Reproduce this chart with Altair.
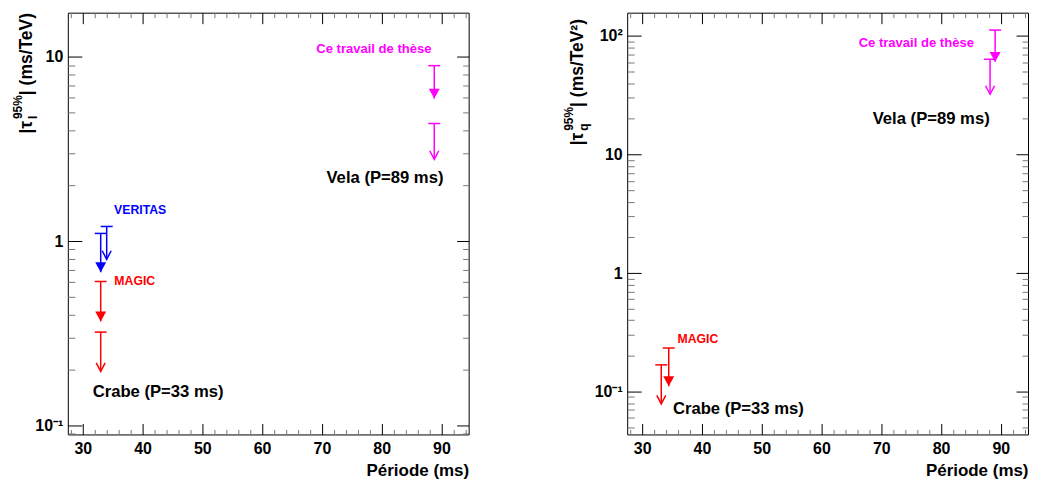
import altair as alt
import pandas as pd

FONT = "Liberation Sans"

# ---------------- data ----------------
experiments = ["VERITAS", "MAGIC", "Ce travail de thèse"]
exp_colors = ["#0000ff", "#ff0000", "#ff00ff"]

# Left panel: |tau_l| 95% upper limits (ms/TeV)
lin_exp = ["VERITAS", "VERITAS", "MAGIC", "MAGIC", "Ce travail de thèse", "Ce travail de thèse"]
lin_period = [33.0, 34.0, 33.0, 33.0, 88.8, 88.8]
lin_limit = [1.10, 1.20, 0.603, 0.320, 8.97, 4.35]
lin_arrow_end = [0.677, 0.796, 0.366, 0.196, 5.94, 2.78]
lin_head = ["plein", "vide", "plein", "vide", "plein", "vide"]

# Right panel: |tau_q| 95% upper limits (ms/TeV^2)
quad_exp = ["MAGIC", "MAGIC", "Ce travail de thèse", "Ce travail de thèse"]
quad_period = [34.45, 33.2, 89.05, 88.2]
quad_limit = [0.233, 0.168, 112.0, 63.5]
quad_arrow_end = [0.111, 0.0788, 60.4, 32.2]
quad_head = ["plein", "vide", "plein", "vide"]

# annotations (data coordinates)
lin_tag_text = ["Ce travail de thèse", "VERITAS", "MAGIC"]
lin_tag_x = [78.7, 39.6, 38.7]
lin_tag_y = [11.1, 1.48, 0.603]
lin_src_text = ["Vela (P=89 ms)", "Crabe (P=33 ms)"]
lin_src_x = [80.55, 42.6]
lin_src_y = [2.21, 0.152]

quad_tag_text = ["Ce travail de thèse", "MAGIC"]
quad_tag_x = [75.86, 39.33]
quad_tag_y = [86.6, 0.275]
quad_src_text = ["Vela (P=89 ms)", "Crabe (P=33 ms)"]
quad_src_x = [78.35, 46.1]
quad_src_y = [20.1, 0.0707]

# axes
x_domain = [27.5, 94.55]
x_major = [30, 40, 50, 60, 70, 80, 90]
x_minor = [28, 32, 34, 36, 38, 42, 44, 46, 48, 52, 54, 56, 58, 62, 64, 66, 68,
           72, 74, 76, 78, 82, 84, 86, 88, 92, 94]
x_title = "Période (ms)"

lin_y_domain = [0.089, 17.4]
lin_y_major = [0.1, 1, 10]
lin_y_minor = [0.09, 0.2, 0.3, 0.4, 0.5, 0.6, 0.7, 0.8, 0.9, 2, 3, 4, 5, 6, 7, 8, 9]
lin_y_labels = "datum.value < 0.5 ? '10⁻¹' : datum.value < 5 ? '1' : '10'"
lin_title = ["|τ", "l", "95%", "| (ms/TeV)"]

quad_y_domain = [0.0435, 157]
quad_y_major = [0.1, 1, 10, 100]
quad_y_minor = [0.05, 0.06, 0.07, 0.08, 0.09, 0.2, 0.3, 0.4, 0.5, 0.6, 0.7, 0.8, 0.9,
                2, 3, 4, 5, 6, 7, 8, 9, 20, 30, 40, 50, 60, 70, 80, 90]
quad_y_labels = "datum.value < 0.5 ? '10⁻¹' : datum.value < 5 ? '1' : datum.value < 50 ? '10' : '10²'"
quad_title = ["|τ", "q", "95%", "| (ms/TeV²)"]

W, H = 402, 423
FILLED_HEAD = "M-1,-1.8L0,0L1,-1.8Z"
OPEN_HEAD = "M-1,-1.9L0,0L1,-1.9"
LABEL_STYLE = dict(labelFont=FONT, labelFontSize=16, labelFontWeight="bold", labelColor="black")


def panel(lim_df, tag_df, src_df, y_domain, y_major, y_minor, y_label_expr,
          title, title_x, title_starts, anchor=False):
    xs = alt.Scale(domain=x_domain, nice=False, zero=False)
    ys = alt.Scale(type="log", domain=y_domain, nice=False)
    color = alt.Color("exp:N", scale=alt.Scale(domain=experiments, range=exp_colors), legend=None)

    frame = pd.DataFrame({"x": x_domain, "y": y_domain})
    base = alt.Chart(frame).mark_point(opacity=0)
    common = dict(domain=False, grid=False, labelFlush=False, labelOverlap=False, tickWidth=1)

    ax_main = base.encode(
        x=alt.X("x:Q", scale=xs, axis=alt.Axis(
            orient="bottom", values=x_major, tickSize=11, offset=-11, tickColor="black",
            labelPadding=6, format="d", title=x_title, titleX=W, titleY=51.8,
            titleAlign="right", titleBaseline="alphabetic", titleAnchor="end",
            titleFont=FONT, titleFontWeight="bold", titleColor="black",
            titleFontSize=17, **LABEL_STYLE, **common)),
        y=alt.Y("y:Q", scale=ys, axis=alt.Axis(
            orient="left", values=y_major, tickSize=14, offset=-14, tickColor="black",
            labelExpr=y_label_expr, labelPadding=5, title=None, **LABEL_STYLE, **common)),
    )
    ax_minor = base.encode(
        x=alt.X("x:Q", scale=xs, axis=alt.Axis(
            orient="bottom", values=x_minor, tickSize=5, offset=-5, tickColor="#777777",
            labels=False, title=None, **common)),
        y=alt.Y("y:Q", scale=ys, axis=alt.Axis(
            orient="left", values=y_minor, tickSize=7, offset=-7, tickColor="#777777",
            labels=False, title=None, **common)),
    )
    ax_opp = base.encode(
        x=alt.X("x:Q", scale=xs, axis=alt.Axis(
            orient="top", values=x_major, tickSize=11, offset=-11, tickColor="black",
            labels=False, title=None, **common)),
        y=alt.Y("y:Q", scale=ys, axis=alt.Axis(
            orient="right", values=y_major, tickSize=12, offset=-12, tickColor="black",
            labels=False, title=None, **common)),
    )
    ax_opp_minor = base.encode(
        x=alt.X("x:Q", scale=xs, axis=alt.Axis(
            orient="top", values=x_minor, tickSize=5, offset=-5, tickColor="#777777",
            labels=False, title=None, **common)),
        y=alt.Y("y:Q", scale=ys, axis=alt.Axis(
            orient="right", values=y_minor, tickSize=6, offset=-6, tickColor="#777777",
            labels=False, title=None, **common)),
    )

    X = alt.X("period:Q", scale=xs, axis=None)
    rules = alt.Chart(lim_df).mark_rule(strokeWidth=1.5).encode(
        x=X, y=alt.Y("limit:Q", scale=ys, axis=None), y2="end:Q", color=color)
    caps = alt.Chart(lim_df).mark_tick(orient="horizontal", size=12, thickness=1.5, opacity=1).encode(
        x=X, y=alt.Y("limit:Q", scale=ys, axis=None), color=color)
    heads_f = alt.Chart(lim_df).transform_filter(alt.datum.head == "plein").mark_point(
        shape=FILLED_HEAD, filled=True, size=121, opacity=1).encode(
        x=X, y=alt.Y("end:Q", scale=ys, axis=None), color=color)
    heads_o = alt.Chart(lim_df).transform_filter(alt.datum.head == "vide").mark_point(
        shape=OPEN_HEAD, filled=False, size=81, strokeWidth=1.5, opacity=1).encode(
        x=X, y=alt.Y("end:Q", scale=ys, axis=None), color=color)

    tx = alt.X("x:Q", scale=xs, axis=None)
    ty = alt.Y("y:Q", scale=ys, axis=None)
    tags_small = alt.Chart(tag_df).transform_filter(alt.datum.exp != "Ce travail de thèse").mark_text(
        font=FONT, fontWeight="bold", fontSize=12.3, align="center", baseline="middle").encode(
        x=tx, y=ty, text="exp:N", color=color)
    tags_big = alt.Chart(tag_df).transform_filter(alt.datum.exp == "Ce travail de thèse").mark_text(
        font=FONT, fontWeight="bold", fontSize=13.1, align="center", baseline="middle").encode(
        x=tx, y=ty, text="exp:N", color=color)
    srcs = alt.Chart(src_df).mark_text(
        font=FONT, fontWeight="bold", fontSize=16.7, align="center", baseline="middle",
        color="black").encode(x=tx, y=ty, text="t:N")

    # rotated y title built from pieces (main, subscript, superscript, rest)
    sizes = [17.5, 12, 12, 17.5]
    dxs = [0, 6, -9, 0]
    tparts = []
    for txt, fs, dx, ystart in zip(title, sizes, dxs, title_starts):
        tparts.append(alt.Chart(pd.DataFrame({"t": [txt]})).mark_text(
            angle=270, align="left", baseline="middle", font=FONT, fontWeight="bold",
            fontSize=fs, color="black").encode(
            text="t:N", x=alt.value(title_x + dx), y=alt.value(ystart)))

    layers = [ax_main, ax_minor, ax_opp, ax_opp_minor, rules, caps, heads_f, heads_o,
              tags_small, tags_big, srcs] + tparts
    if anchor:
        # invisible layout anchor fixing the left/top extent of the figure
        layers.append(alt.Chart(pd.DataFrame({"a": [0]})).mark_rule(opacity=0, strokeWidth=1).encode(
            x=alt.value(-59.2), y=alt.value(-1.2), y2=alt.value(10)))
    return alt.layer(*layers).resolve_axis(
        x="independent", y="independent").properties(width=W, height=H)


lin_df = pd.DataFrame({"exp": lin_exp, "period": lin_period, "limit": lin_limit,
                       "end": lin_arrow_end, "head": lin_head})
quad_df = pd.DataFrame({"exp": quad_exp, "period": quad_period, "limit": quad_limit,
                        "end": quad_arrow_end, "head": quad_head})
lin_tags = pd.DataFrame({"exp": lin_tag_text, "x": lin_tag_x, "y": lin_tag_y})
quad_tags = pd.DataFrame({"exp": quad_tag_text, "x": quad_tag_x, "y": quad_tag_y})
lin_srcs = pd.DataFrame({"t": lin_src_text, "x": lin_src_x, "y": lin_src_y})
quad_srcs = pd.DataFrame({"t": quad_src_text, "x": quad_src_x, "y": quad_src_y})

left = panel(lin_df, lin_tags, lin_srcs, lin_y_domain, lin_y_major, lin_y_minor, lin_y_labels,
             lin_title, -41, [121.2, 106.7, 106.7, 82.7], anchor=True)
right = panel(quad_df, quad_tags, quad_srcs, quad_y_domain, quad_y_major, quad_y_minor, quad_y_labels,
              quad_title, -49, [133.0, 118.5, 118.5, 94.5])

chart = alt.hconcat(left, right, spacing=159, bounds="flush").properties(
    padding={"left": 0, "top": 0, "right": 0, "bottom": 0},
    background="white",
).configure_view(stroke="black", strokeWidth=1)

chart.save("out.html", embed_options={"renderer": "svg", "actions": False})
